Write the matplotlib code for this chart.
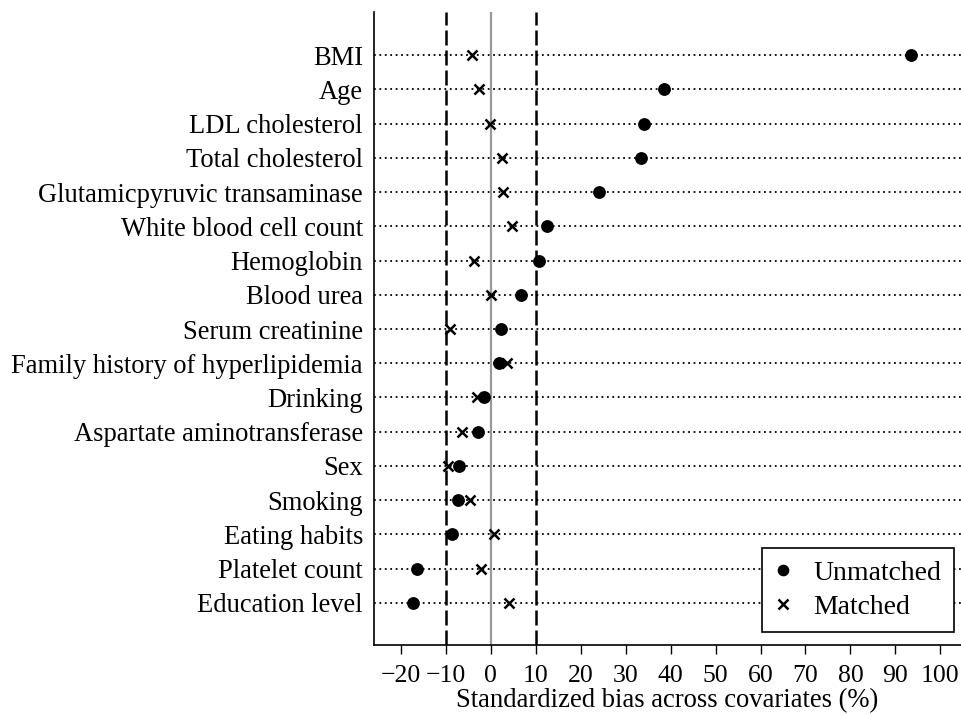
import matplotlib
matplotlib.use("Agg")
import matplotlib.pyplot as plt
import numpy as np

plt.rcParams['font.family'] = ['Liberation Serif', 'DejaVu Serif']

covariates = ["BMI", "Age", "LDL cholesterol", "Total cholesterol",
              "Glutamicpyruvic transaminase", "White blood cell count",
              "Hemoglobin", "Blood urea", "Serum creatinine",
              "Family history of hyperlipidemia", "Drinking",
              "Aspartate aminotransferase", "Sex", "Smoking",
              "Eating habits", "Platelet count", "Education level"]
unmatched = [93.5, 38.5, 34.1, 33.4, 24.1, 12.4, 10.7, 6.8, 2.2,
             1.9, -1.5, -2.9, -7.1, -7.3, -8.7, -16.4, -17.3]
matched = [-4.3, -2.6, -0.3, 2.5, 2.8, 4.6, -3.8, 0.1, -9.2,
           3.5, -3.0, -6.5, -9.6, -4.6, 0.6, -2.2, 4.1]
xticks = list(range(-20, 101, 10))

fig = plt.figure(figsize=(9.61, 7.15), dpi=100)
ax = fig.add_axes([374/961, 1-645/715, (961-374)/961, (645-12)/715])

n = len(covariates)
ypos = np.arange(n)[::-1]

for y in ypos:
    ax.axhline(y, color='black', lw=1.3, ls=(0, (1, 2)), zorder=1)

ax.axvline(0, color='#999999', lw=1.6, zorder=2)
ax.axvline(-10, color='black', lw=1.8, ls=(0, (6, 2)), zorder=2)
ax.axvline(10, color='black', lw=1.8, ls=(0, (6, 2)), zorder=2)

ax.plot(unmatched, ypos, 'o', color='black', ms=8.2, ls='none', zorder=4, label='Unmatched')
ax.plot(matched, ypos, 'x', color='black', ms=7.5, mew=1.8, ls='none', zorder=5, label='Matched')

ax.set_xlim(-26, 104.6)
ax.set_ylim(-1.23, 17.26)
ax.set_yticks(ypos)
ax.set_yticklabels(covariates, fontsize=19.1)
ax.tick_params(axis='y', length=0, pad=8)
ax.set_xticks(xticks)
ax.set_xticklabels([f"{t}".replace('-', '\u2212') for t in xticks], fontsize=18.5)
ax.tick_params(axis='x', length=6.5, width=1, pad=8, direction='out')

for s in ['top', 'right']:
    ax.spines[s].set_visible(False)
ax.spines['left'].set_linewidth(1.2)
ax.spines['bottom'].set_linewidth(1.2)

ax.set_xlabel("Standardized bias across covariates (%)", fontsize=19.2, labelpad=1)

leg = ax.legend(loc='lower right', bbox_to_anchor=(954/961, 1-632/715),
                bbox_transform=fig.transFigure, fontsize=20, frameon=True,
                fancybox=False, framealpha=1, edgecolor='black',
                handlelength=0.6, handletextpad=0.8, borderpad=0.45,
                labelspacing=0.3, markerscale=0.9, borderaxespad=0)
leg.get_frame().set_linewidth(1.2)
leg.set_zorder(10)

fig.savefig("out.png", dpi=100)
